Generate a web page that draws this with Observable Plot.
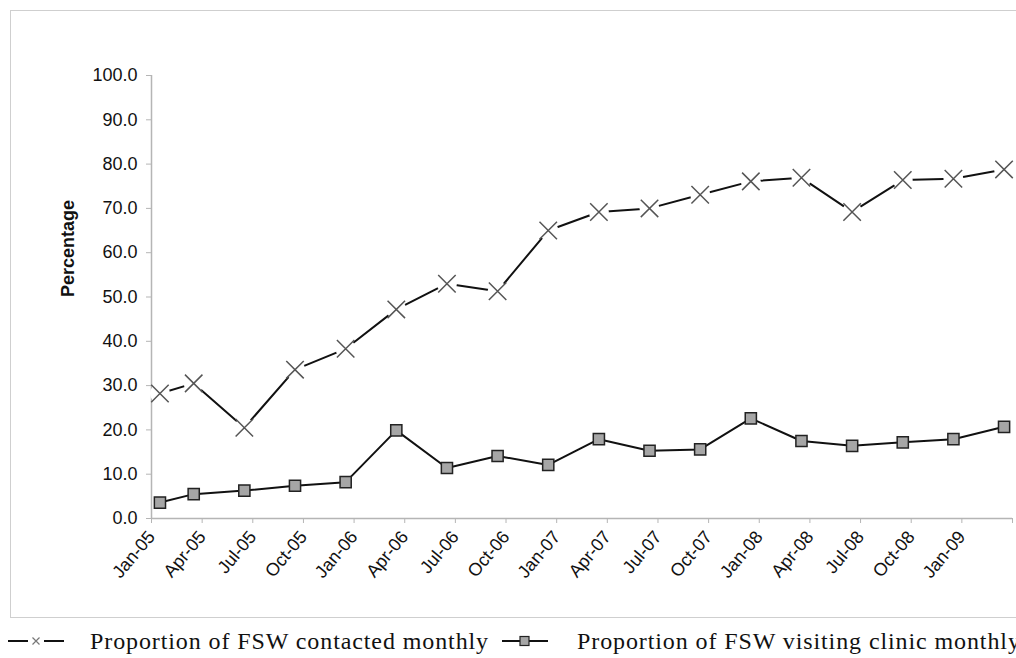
<!DOCTYPE html>
<html>
<head>
<meta charset="utf-8">
<script src="https://cdn.jsdelivr.net/npm/d3@7"></script>
<script src="https://cdn.jsdelivr.net/npm/@observablehq/plot@0.6"></script>
<style>
  html, body { margin: 0; padding: 0; background: #fff; }
  #wrap { position: relative; width: 1016px; height: 658px; overflow: hidden; background: #fff; }
  #frame { position: absolute; left: 10px; top: 10px; width: 1030px; height: 606px; border: 1.5px solid #cfcfcf; }
  #chart { position: absolute; left: 0; top: 0; }
  .leg { position: absolute; top: 629px; font-family: "Liberation Serif", "Times New Roman", serif; font-size: 24px; line-height: 24px; letter-spacing: 0.9px; color: #111; white-space: nowrap; }
  .sym { position: absolute; top: 631px; }
</style>
</head>
<body>
<div id="wrap">
  <div id="frame"></div>
  <div id="chart"></div>
  <svg class="sym" style="left:6px" width="62" height="20"><line x1="2" y1="10" x2="22" y2="10" stroke="#111" stroke-width="2"/><line x1="38" y1="10" x2="58" y2="10" stroke="#111" stroke-width="2"/><path d="M26.5,6.5L33.5,13.5M26.5,13.5L33.5,6.5" stroke="#777" stroke-width="1.2"/></svg>
  <div class="leg" style="left:90px">Proportion of FSW contacted monthly</div>
  <svg class="sym" style="left:500px" width="52" height="20"><line x1="2" y1="10" x2="48" y2="10" stroke="#111" stroke-width="2"/><rect x="20" y="5.5" width="9" height="9" fill="#a6a6a6" stroke="#222" stroke-width="1.2"/></svg>
  <div class="leg" style="left:577px">Proportion of FSW visiting clinic monthly</div>
</div>
<script>
const months = ["2005-01","2005-03","2005-06","2005-09","2005-12","2006-03","2006-06","2006-09","2006-12","2007-03","2007-06","2007-09","2007-12","2008-03","2008-06","2008-09","2008-12","2009-03"];
const contacted = [28.2, 30.5, 20.5, 33.6, 38.3, 47.2, 53.0, 51.3, 65.0, 69.2, 70.0, 73.1, 76.1, 76.9, 69.2, 76.4, 76.7, 78.8];
const clinic = [3.6, 5.5, 6.3, 7.4, 8.2, 19.9, 11.4, 14.1, 12.1, 17.9, 15.3, 15.6, 22.6, 17.5, 16.4, 17.2, 17.9, 20.7];
const tickLabels = ["Jan-05","Apr-05","Jul-05","Oct-05","Jan-06","Apr-06","Jul-06","Oct-06","Jan-07","Apr-07","Jul-07","Oct-07","Jan-08","Apr-08","Jul-08","Oct-08","Jan-09"];
const yTicks = [0, 10, 20, 30, 40, 50, 60, 70, 80, 90, 100];
const yLabel = "Percentage";

const monthNames = ["Jan","Feb","Mar","Apr","May","Jun","Jul","Aug","Sep","Oct","Nov","Dec"];
const baseYear = 2005;
// position of a month on a monthly axis: centre of the month slot
const monthPos = s => { const [y, m] = s.split("-").map(Number); return (y - baseYear) * 12 + (m - 1) + 0.5; };
const labelPos = l => { const [mn, yy] = l.split("-"); return (2000 + Number(yy) - baseYear) * 12 + monthNames.indexOf(mn); };
const xEnd = Math.ceil(monthPos(months[months.length - 1]));

const dataContacted = months.map((m, i) => ({x: monthPos(m), y: contacted[i]}));
const dataClinic = months.map((m, i) => ({x: monthPos(m), y: clinic[i]}));

const tickPos = tickLabels.map(labelPos).concat([xEnd]);
const tickText = new Map(tickLabels.map(l => [labelPos(l), l]));

const chart = Plot.plot({
  width: 1016,
  height: 620,
  marginLeft: 151,
  marginRight: 4,
  marginTop: 75,
  marginBottom: 102,
  style: {fontFamily: "'Liberation Sans', Arial, sans-serif", fontSize: "18px", color: "#111", background: "transparent"},
  x: {type: "linear", domain: [0, xEnd]},
  y: {domain: [0, 100]},
  marks: [
    Plot.ruleX([0], {stroke: "#b5b5b5", strokeWidth: 1.5}),
    Plot.ruleY([0], {stroke: "#b5b5b5", strokeWidth: 1.5}),
    Plot.axisY({ticks: yTicks, tickFormat: d => d.toFixed(1), tickSize: 5, tickPadding: 9, stroke: "#b5b5b5", fill: "#111", label: null, fontSize: 18}),
    Plot.axisX({ticks: tickPos, tickFormat: d => tickText.get(d) ?? "", tickRotate: -50, tickSize: 5, tickPadding: 10, stroke: "#b5b5b5", fill: "#111", label: null, fontSize: 18}),
    Plot.text([yLabel], {frameAnchor: "left", dx: -83, rotate: -90, fontWeight: "bold", fontSize: 18, fill: "#111"}),
    Plot.line(dataContacted, {x: "x", y: "y", stroke: "#111", strokeWidth: 2}),
    Plot.dot(dataContacted, {x: "x", y: "y", r: 10, fill: "#fff", stroke: "none"}),
    Plot.dot(dataContacted, {x: "x", y: "y", symbol: "times", r: 8, stroke: "#555", strokeWidth: 1.5}),
    Plot.line(dataClinic, {x: "x", y: "y", stroke: "#111", strokeWidth: 2}),
    Plot.dot(dataClinic, {x: "x", y: "y", symbol: "square", r: 6.3, fill: "#a6a6a6", stroke: "#222", strokeWidth: 1.5})
  ]
});
document.getElementById("chart").appendChild(chart);
</script>
</body>
</html>
